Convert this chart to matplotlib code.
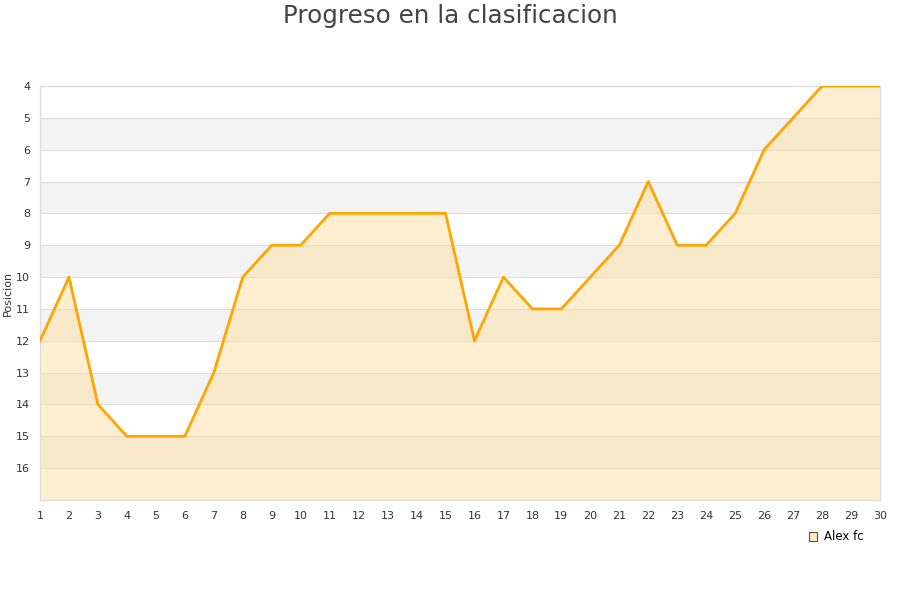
import matplotlib
matplotlib.use("Agg")
import matplotlib.pyplot as plt
from matplotlib.patches import Patch

jornadas = list(range(1, 31))
posicion = [12, 10, 14, 15, 15, 15, 13, 10, 9, 9, 8, 8, 8, 8, 8,
            12, 10, 11, 11, 10, 9, 7, 9, 9, 8, 6, 5, 4, 4, 4]
y_ticks = list(range(4, 17))
serie = "Alex fc"

fig = plt.figure(figsize=(9, 6), dpi=100)
ax = fig.add_axes([40/900, 1-500/600, 840/900, 414/600])

# alternating bands
for y0 in range(4, 17):
    if (y0 - 4) % 2 == 1:
        ax.axhspan(y0, y0 + 1, color="#f3f3f3", zorder=0, lw=0)
for y0 in range(5, 17):
    ax.axhline(y0, color="#dddddd", lw=0.8, zorder=1)

ax.fill_between(jornadas, posicion, 17, color="#ffd98a", alpha=0.4, lw=0, zorder=2)
ax.plot(jornadas, posicion, color="#ffa500", lw=2, zorder=3)

ax.set_xlim(1, 30)
ax.set_ylim(17, 4)
ax.set_yticks(y_ticks)
ax.set_xticks(jornadas)
ax.tick_params(axis="both", length=0, labelsize=8, colors="#333333", pad=8)
ax.tick_params(axis="y", pad=7)
for s in ["top", "right", "left", "bottom"]:
    ax.spines[s].set_color("#dddddd")
    ax.spines[s].set_linewidth(1)
ax.set_ylabel("Posicion", fontsize=8, color="#333333")
ax.yaxis.set_label_coords(-27/840, 0.5)

fig.text(0.5, 1-16/600, "Progreso en la clasificacion", ha="center", va="center",
         fontsize=17.7, color="#444444")

handle = Patch(facecolor="#ffe9c0", edgecolor="#555555", lw=0.8)
fig.legend([handle], [serie], loc="center", bbox_to_anchor=(836/900, 1-537/600),
           frameon=False, fontsize=8.5, handlelength=0.7, handleheight=0.7,
           handletextpad=0.6)

fig.savefig("out.png", dpi=100)
